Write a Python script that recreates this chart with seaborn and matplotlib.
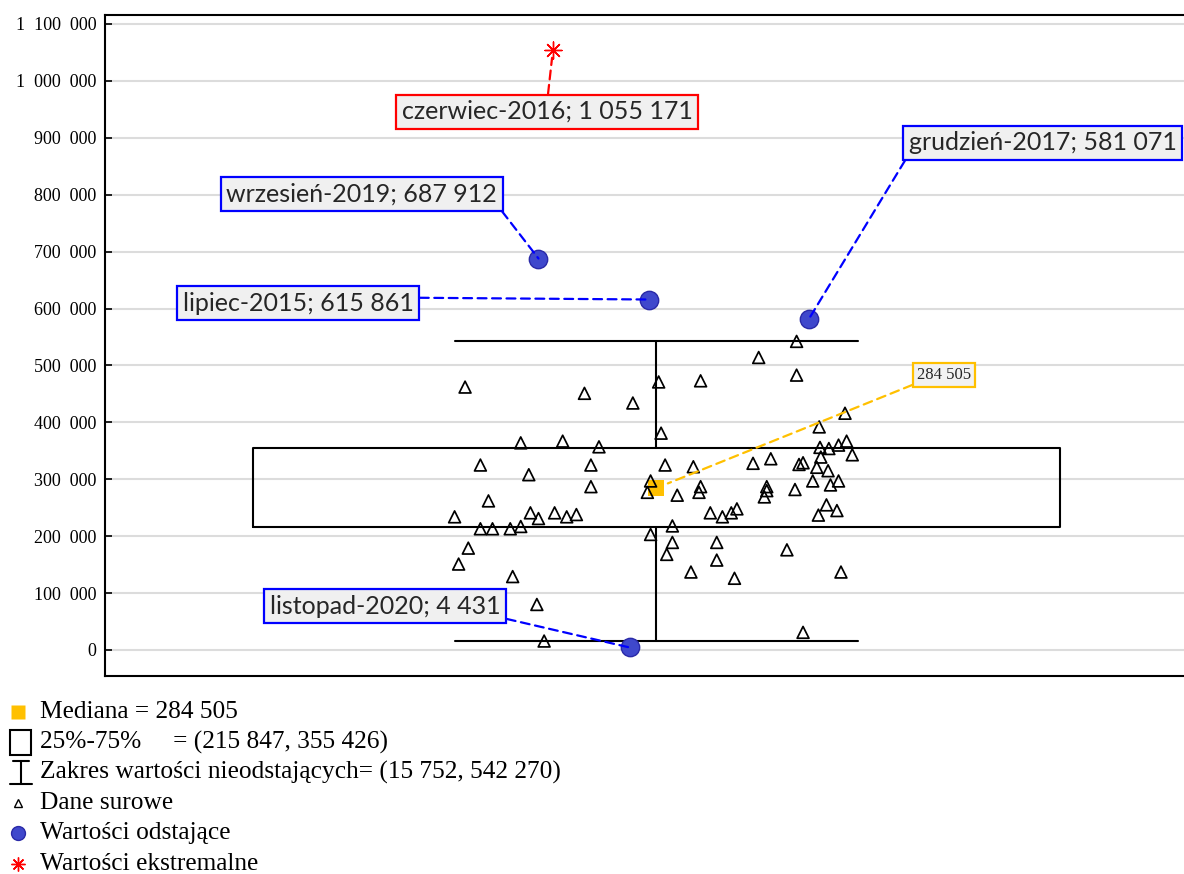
import matplotlib
matplotlib.use("Agg")
import matplotlib.pyplot as plt
import numpy as np
import pandas as pd
import seaborn as sns
from matplotlib.patches import Rectangle
from matplotlib.ticker import FuncFormatter

# ---- data -------------------------------------------------------------
# raw (non-outlying) monthly values and their horizontal jitter offsets
raw_values = [
    462000, 451000, 434000, 471000, 381000, 364000, 367000, 357000, 325000, 308000,
    325000, 287000, 325000, 297000, 277000, 262000, 234000, 241000, 231000, 241000,
    234000, 238000, 213000, 213000, 213000, 217000, 203000, 179000, 151000, 129000,
    80000, 15752, 168000, 189000, 218000, 542270, 514000, 483000, 473000, 416000,
    392000, 356000, 354000, 360000, 367000, 343000, 339000, 322000, 328000, 336000,
    326000, 329000, 321000, 315000, 297000, 297000, 290000, 287000, 277000, 272000,
    287000, 280000, 269000, 282000, 255000, 237000, 245000, 241000, 234000, 241000,
    248000, 189000, 158000, 176000, 137000, 126000, 137000, 31000,
]
raw_jitter = [
    -0.237, -0.089, -0.029, 0.003, 0.006, -0.168, -0.116, -0.071, -0.218, -0.158,
    -0.081, -0.081, 0.011, -0.007, -0.011, -0.208, -0.250, -0.156, -0.146, -0.126,
    -0.111, -0.099, -0.218, -0.203, -0.181, -0.168, -0.007, -0.233, -0.245, -0.178,
    -0.148, -0.139, 0.013, 0.020, 0.020, 0.174, 0.127, 0.174, 0.055, 0.234,
    0.202, 0.203, 0.214, 0.226, 0.236, 0.243, 0.204, 0.046, 0.120, 0.142,
    0.177, 0.182, 0.199, 0.213, 0.194, 0.226, 0.216, 0.055, 0.053, 0.026,
    0.137, 0.137, 0.134, 0.172, 0.211, 0.201, 0.224, 0.067, 0.082, 0.093,
    0.100, 0.075, 0.075, 0.162, 0.043, 0.097, 0.229, 0.182,
]

# summary statistics
median_value = 284505
quartiles = [215847, 355426]
nonoutlier_range = [15752, 542270]

# outlying and extreme observations
outlier_labels = ["wrzesień-2019", "lipiec-2015", "grudzień-2017", "listopad-2020"]
outlier_values = [687912, 615861, 581071, 4431]
outlier_jitter = [-0.146, -0.009, 0.189, -0.033]
extreme_labels = ["czerwiec-2016"]
extreme_values = [1055171]
extreme_jitter = [-0.128]

y_ticks = list(range(0, 1100001, 100000))


def fmt(v):
    return f"{v:,}".replace(",", " ")


# ---- style ------------------------------------------------------------
sns.set_theme(style="white")
plt.rcParams["font.family"] = ["Liberation Serif", "DejaVu Serif"]

BLUE = "#0000ff"
RED = "#ff0000"
GOLD = "#ffc000"
DOT_FACE = "#3f48cc"
DOT_EDGE = "#2a2aa8"
LABEL_FONT = ["Lato", "DejaVu Sans"]

W, H = 1184, 874
fig = plt.figure(figsize=(W / 100, H / 100), dpi=100)
ax = fig.add_axes([105 / W, 1 - 676 / H, (1187 - 105) / W, (676 - 15) / H])

# ---- box & whiskers -----------------------------------------------------
stats = [dict(med=median_value, q1=quartiles[0], q3=quartiles[1],
              whislo=nonoutlier_range[0], whishi=nonoutlier_range[1], fliers=[])]
line_kw = dict(color="black", linewidth=1.5)
ax.bxp(stats, positions=[0], widths=[1.0], capwidths=[0.5], showfliers=False,
       boxprops=line_kw, whiskerprops=line_kw, capprops=line_kw,
       medianprops=dict(linewidth=0), manage_ticks=False)

# ---- raw data -------------------------------------------------------------
raw = pd.DataFrame({"jitter": raw_jitter, "value": raw_values})
sns.scatterplot(data=raw, x="jitter", y="value", marker="^", s=72,
                facecolors="none", edgecolor="black", linewidth=1.25, ax=ax, zorder=4)

# median marker
sns.scatterplot(x=[0], y=[median_value], marker="s", s=135, color=GOLD,
                edgecolor="none", ax=ax, zorder=3)

# outliers
out = pd.DataFrame({"jitter": outlier_jitter, "value": outlier_values})
sns.scatterplot(data=out, x="jitter", y="value", marker="o", s=175,
                color=DOT_FACE, edgecolor=DOT_EDGE, linewidth=1.0, ax=ax, zorder=5)

# extremes
ext = pd.DataFrame({"jitter": extreme_jitter, "value": extreme_values})
sns.scatterplot(data=ext, x="jitter", y="value", marker=(8, 2, 0), s=150,
                color=RED, edgecolor=RED, linewidth=1.0, ax=ax, zorder=5)

# ---- callouts -------------------------------------------------------------
dash = (0, (4, 2.5))

# label box centres (x offset, y value) and the corner the leader leaves from
outlier_text_pos = [(-0.365, 802000), (-0.444, 608900), (0.479, 890900), (-0.336, 77300)]
outlier_relpos = [(1.0, 0.0), (1.0, 0.75), (0.0, 0.0), (1.0, 0.0)]
for lab, v, jx, (tx, ty), rp in zip(outlier_labels, outlier_values, outlier_jitter,
                                     outlier_text_pos, outlier_relpos):
    ax.annotate(f"{lab}; {fmt(v)}", xy=(jx, v), xytext=(tx, ty),
                ha="center", va="center", fontsize=18, family=LABEL_FONT, zorder=6,
                bbox=dict(boxstyle="square,pad=0.22", fc="#f0f0f0", ec=BLUE, lw=1.6),
                arrowprops=dict(arrowstyle="-", color=BLUE, lw=1.6, linestyle=dash,
                                relpos=rp, shrinkA=0, shrinkB=0))

for lab, v, jx in zip(extreme_labels, extreme_values, extreme_jitter):
    ax.annotate(f"{lab}; {fmt(v)}", xy=(jx, v), xytext=(-0.135, 946200),
                ha="center", va="center", fontsize=18, family=LABEL_FONT, zorder=6,
                bbox=dict(boxstyle="square,pad=0.22", fc="#f0f0f0", ec=RED, lw=1.6),
                arrowprops=dict(arrowstyle="-", color=RED, lw=1.6, linestyle=dash,
                                relpos=(0.5, 1.0), shrinkA=0, shrinkB=6))

ax.annotate(fmt(median_value), xy=(0, median_value), xytext=(0.357, 483200),
            ha="center", va="center", fontsize=12, zorder=6,
            bbox=dict(boxstyle="square,pad=0.25", fc="#f2f2f2", ec=GOLD, lw=1.6),
            arrowprops=dict(arrowstyle="-", color=GOLD, lw=1.6, linestyle=dash,
                            relpos=(0.0, 0.0), shrinkA=0, shrinkB=9))

# ---- axes ---------------------------------------------------------------
ax.set_xlim(-0.6834, 0.658)
ax.set_ylim(-45700, 1115800)
ax.set_xticks([])
ax.set_yticks(y_ticks)
ax.yaxis.set_major_formatter(FuncFormatter(lambda v, p: fmt(int(v)).replace(" ", "  ")))
ax.tick_params(axis="y", direction="in", length=5, width=1.2, labelsize=13, pad=6,
               colors="black", left=True)
ax.yaxis.grid(True, color="#dcdcdc", linewidth=1.5)
ax.set_axisbelow(True)
ax.set_xlabel("")
ax.set_ylabel("")
for side in ("left", "top", "bottom"):
    ax.spines[side].set_color("black")
    ax.spines[side].set_linewidth(1.5)
ax.spines["right"].set_visible(False)

# ---- legend -------------------------------------------------------------
lax = fig.add_axes([0, 0, 1, 1], zorder=-1)
lax.set_xlim(0, W)
lax.set_ylim(H, 0)
lax.axis("off")

rows = [712, 742, 772, 803, 833, 864]
lax.plot(18, rows[0], marker="s", ms=10, color=GOLD, mec="none")
lax.add_patch(Rectangle((10, 730), 21, 25, fill=False, ec="black", lw=1.5))
lax.plot([21, 21], [761, 784], color="black", lw=1.5)
lax.plot([13, 29], [761, 761], color="black", lw=1.5)
lax.plot([10, 32], [784, 784], color="black", lw=1.5)
lax.plot(18, rows[3], marker="^", ms=6, mfc="none", mec="black", mew=1.0)
lax.plot(18, rows[4], marker="o", ms=10, mfc=DOT_FACE, mec=DOT_EDGE, mew=1.0)
lax.plot(18, rows[5], marker=(8, 2, 0), ms=10, color=RED, mew=1.0)

legend_texts = [
    f"Mediana = {fmt(median_value)}",
    f"25%-75%     = ({fmt(quartiles[0])}, {fmt(quartiles[1])})",
    f"Zakres wartości nieodstających= ({fmt(nonoutlier_range[0])}, {fmt(nonoutlier_range[1])})",
    "Dane surowe",
    "Wartości odstające",
    "Wartości ekstremalne",
]
for y, t in zip(rows, legend_texts):
    lax.text(40, y, t, va="center", ha="left", fontsize=18.3, color="black")

fig.savefig("out.png", dpi=100)
